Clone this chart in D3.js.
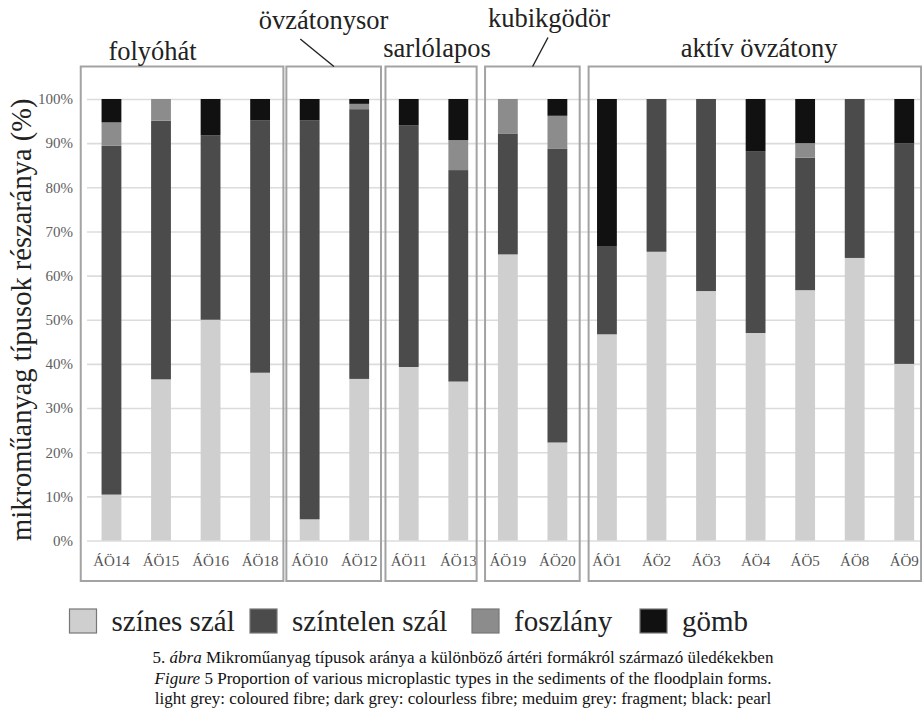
<!DOCTYPE html>
<html>
<head>
<meta charset="utf-8">
<script src="https://cdn.jsdelivr.net/npm/d3@7"></script>
<style>
  html, body { margin: 0; padding: 0; background: #fff; }
  svg { display: block; }
</style>
</head>
<body>
<svg id="chart" width="922" height="709"></svg>
<script>
// Sample sites (bars), left to right
const samples = ["ÁÖ14","ÁÖ15","ÁÖ16","ÁÖ18","ÁÖ10","ÁÖ12","ÁÖ11","ÁÖ13","ÁÖ19","ÁÖ20","ÁÖ1","ÁÖ2","ÁÖ3","ÁÖ4","ÁÖ5","ÁÖ8","ÁÖ9"];

// Share of each microplastic type per sample (%)
const szinesSzal    = [10.4, 36.5, 50.0, 38.0,  4.8, 36.6, 39.3, 36.0, 64.8, 22.2, 46.7, 65.4, 56.5, 47.0, 56.7, 64.0, 40.0];
const szintelenSzal = [79.0, 58.6, 41.8, 57.2, 90.4, 61.1, 54.7, 47.9, 27.4, 66.6, 20.0, 34.6, 43.5, 41.2, 30.0, 36.0, 50.0];
const foszlany      = [ 5.3,  4.9,  0.0,  0.0,  0.0,  1.2,  0.0,  6.8,  7.8,  7.4,  0.0,  0.0,  0.0,  0.0,  3.3,  0.0,  0.0];
const gomb          = [ 5.3,  0.0,  8.2,  4.8,  4.8,  1.1,  6.0,  9.3,  0.0,  3.8, 33.3,  0.0,  0.0, 11.8, 10.0,  0.0, 10.0];

// Series names (legend) and fills
const seriesNames = ["színes szál", "színtelen szál", "foszlány", "gömb"];
const seriesColors = ["#cfcfcf", "#4b4b4b", "#8c8c8c", "#111111"];

// Floodplain forms and the samples belonging to each
const groupNames = ["folyóhát", "övzátonysor", "sarlólapos", "kubikgödör", "aktív övzátony"];
const groupMembers = [
  ["ÁÖ14","ÁÖ15","ÁÖ16","ÁÖ18"],
  ["ÁÖ10","ÁÖ12"],
  ["ÁÖ11","ÁÖ13"],
  ["ÁÖ19","ÁÖ20"],
  ["ÁÖ1","ÁÖ2","ÁÖ3","ÁÖ4","ÁÖ5","ÁÖ8","ÁÖ9"]
];

const yTicks = [0,10,20,30,40,50,60,70,80,90,100];

const captionLines = [
  [{t:"5. ", i:false},{t:"ábra", i:true},{t:" Mikroműanyag típusok aránya a különböző ártéri formákról származó üledékekben", i:false}],
  [{t:"Figure", i:true},{t:" 5 Proportion of various microplastic types in the sediments of the floodplain forms.", i:false}],
  [{t:"light grey: coloured fibre; dark grey: colourless fibre; meduim grey: fragment; black: pearl", i:false}]
];

// ---- layout ----
const SERIF = "'Liberation Serif', 'Times New Roman', 'DejaVu Serif', serif";
const svg = d3.select("#chart");
const plotLeft = 87, plotRight = 922;
const boxTop = 66.5, boxBottom = 581;

// Box padding around each group, in band steps (left, right)
const boxPad = [[0.62,0.47],[0.47,0.44],[0.47,0.37],[0.46,0.45],[0.37,0.34]];
// Group label placement: offset from first bar centre (steps), baseline, optional leader line
const labelPos = [
  {dx:0.83, y:60, leader:null},
  {dx:0.28, y:29, leader:[[-0.19,39],[0.49,66.5]]},
  {dx:0.57, y:57, leader:null},
  {dx:0.83, y:27, leader:[[0.81,37.5],[0.5,66.5]]},
  {dx:3.07, y:57, leader:null}
];

const x = d3.scaleBand()
  .domain(samples)
  .range([96.6, 919.1])
  .paddingInner(0.6)
  .paddingOuter(0.1);

const y = d3.scaleLinear().domain([0, 100]).range([540.5, 99]);

// gridlines + y tick labels
const yAxis = svg.append("g")
  .attr("transform", `translate(${plotLeft},0)`)
  .call(d3.axisLeft(y).tickValues(yTicks).tickFormat(d => d + "%")
        .tickSize(-(plotRight - plotLeft)).tickPadding(14));
yAxis.select(".domain").remove();
yAxis.selectAll(".tick line").attr("stroke", "#dcdcdc").attr("stroke-width", 1.6);
yAxis.selectAll(".tick text")
  .attr("fill", "#606060")
  .style("font-size", "15px")
  .style("font-family", SERIF);

// stacked bars
const rows = samples.map((s, i) => ({
  sample: s,
  "színes szál": szinesSzal[i],
  "színtelen szál": szintelenSzal[i],
  "foszlány": foszlany[i],
  "gömb": gomb[i]
}));
const stacked = d3.stack().keys(seriesNames)(rows);

svg.append("g").selectAll("g")
  .data(stacked)
  .join("g")
    .attr("fill", (d, i) => seriesColors[i])
  .selectAll("rect")
  .data(d => d)
  .join("rect")
    .attr("x", d => x(d.data.sample))
    .attr("width", x.bandwidth())
    .attr("y", d => y(d[1]))
    .attr("height", d => Math.max(0, y(d[0]) - y(d[1])));

// x labels
const xAxis = svg.append("g")
  .attr("transform", `translate(0,${y(0)})`)
  .call(d3.axisBottom(x).tickSize(0).tickPadding(15));
xAxis.select(".domain").remove();
xAxis.selectAll(".tick text")
  .attr("fill", "#555")
  .style("font-size", "15px")
  .style("font-family", SERIF);

// group boxes and labels
const step = x.step();
const cx = s => x(s) + x.bandwidth() / 2;
groupMembers.forEach((members, g) => {
  const first = cx(members[0]);
  const last = cx(members[members.length - 1]);
  const left = first - boxPad[g][0] * step;
  const right = last + boxPad[g][1] * step;
  svg.append("rect")
    .attr("x", left).attr("y", boxTop)
    .attr("width", right - left).attr("height", boxBottom - boxTop)
    .attr("fill", "none")
    .attr("stroke", "#a3a3a3")
    .attr("stroke-width", 2);

  const lp = labelPos[g];
  svg.append("text")
    .attr("x", first + lp.dx * step)
    .attr("y", lp.y)
    .attr("text-anchor", "middle")
    .attr("fill", "#222")
    .style("font-family", SERIF)
    .style("font-size", "26.5px")
    .text(groupNames[g]);
  if (lp.leader) {
    svg.append("line")
      .attr("x1", first + lp.leader[0][0] * step).attr("y1", lp.leader[0][1])
      .attr("x2", first + lp.leader[1][0] * step).attr("y2", lp.leader[1][1])
      .attr("stroke", "#222").attr("stroke-width", 1.4);
  }
});

// y axis title
svg.append("text")
  .attr("transform", `translate(31,${(99 + 540.5) / 2}) rotate(-90)`)
  .attr("text-anchor", "middle")
  .attr("fill", "#222")
  .style("font-family", SERIF)
  .style("font-size", "28.5px")
  .text("mikroműanyag típusok részaránya (%)");

// legend
const legendSquareX = [69.5, 250, 472, 640];
const legend = svg.append("g");
seriesNames.forEach((name, i) => {
  legend.append("rect")
    .attr("x", legendSquareX[i]).attr("y", 609)
    .attr("width", 27).attr("height", 24)
    .attr("fill", seriesColors[i])
    .attr("stroke", "#777").attr("stroke-width", 1.2);
  legend.append("text")
    .attr("x", legendSquareX[i] + 42)
    .attr("y", 631)
    .attr("fill", "#222")
    .style("font-family", SERIF)
    .style("font-size", "29px")
    .text(name);
});

// caption
captionLines.forEach((parts, li) => {
  const t = svg.append("text")
    .attr("x", 463).attr("y", 663 + li * 20.5)
    .attr("text-anchor", "middle")
    .attr("fill", "#111")
    .style("font-family", SERIF)
    .style("font-size", "17px");
  parts.forEach(p => {
    t.append("tspan").style("font-style", p.i ? "italic" : "normal").text(p.t);
  });
});
</script>
</body>
</html>
